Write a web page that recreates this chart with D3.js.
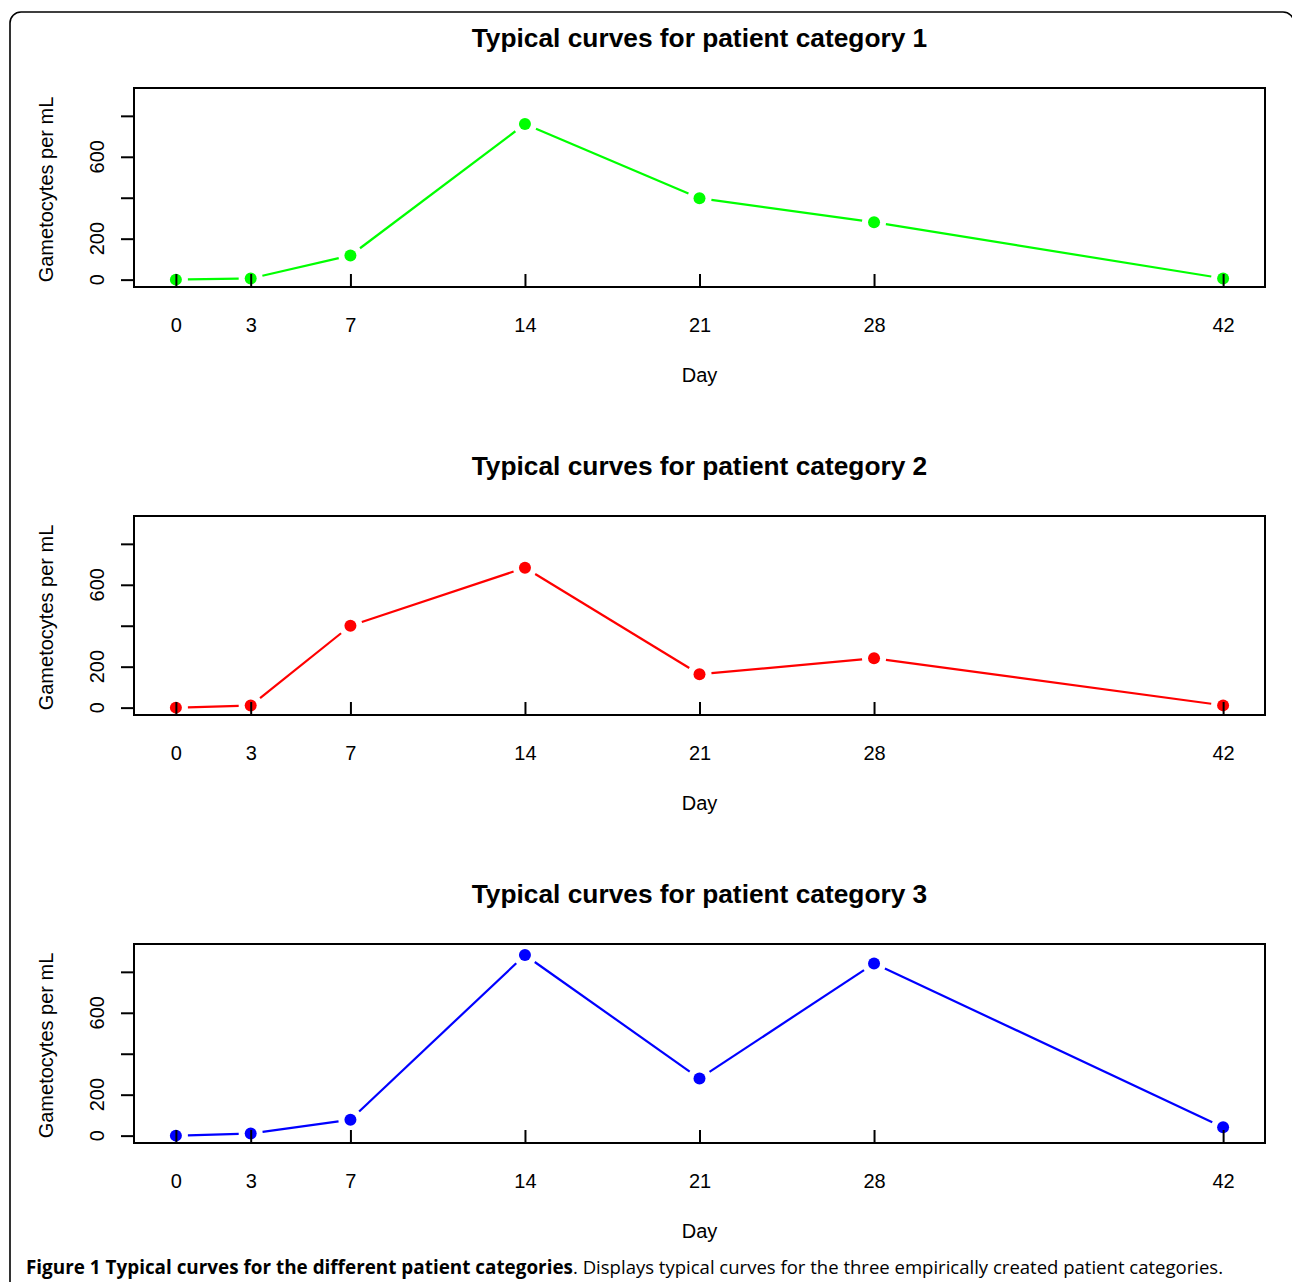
<!DOCTYPE html>
<html>
<head>
<meta charset="utf-8">
<script src="https://cdn.jsdelivr.net/npm/d3@7"></script>
<style>
  html, body { margin: 0; padding: 0; background: #fff; }
  svg { display: block; }
  .r-text { font-family: "Liberation Sans", Arial, Helvetica, sans-serif; fill: #000; }
  .caption { font-family: "Open Sans", "Noto Sans", sans-serif; fill: #000; }
</style>
</head>
<body>
<svg id="fig" width="1292" height="1282"></svg>
<script>
// Sampling days (x axis) shared by every panel
const days = [0, 3, 7, 14, 21, 28, 42];

// Typical gametocyte counts per category, one value per sampling day
const category1 = [0, 6, 118, 760, 398, 280, 6];
const category2 = [0, 10, 400, 683, 163, 241, 11];
const category3 = [0, 10, 78, 882, 279, 841, 41];

const seriesNames = ["1", "2", "3"];
const seriesValues = [category1, category2, category3];
const seriesColors = ["#00ff00", "#ff0000", "#0000ff"];

// Axis settings
const yLimits = [0, 900];
const yTicks = [0, 200, 400, 600, 800];
const yTickLabels = [0, 200, 600];
const xLimits = [0, 42];

const titlePrefix = "Typical curves for patient category ";
const xTitle = "Day";
const yTitle = "Gametocytes per mL";
const captionBold = "Figure 1 Typical curves for the different patient categories";
const captionRest = ". Displays typical curves for the three empirically created patient categories.";

const FONT = "'Liberation Sans', Arial, Helvetica, sans-serif";
const svg = d3.select("#fig");

// Rounded frame around the figure
svg.append("rect")
  .attr("x", 10).attr("y", 12)
  .attr("width", 1284).attr("height", 1300)
  .attr("rx", 11).attr("ry", 11)
  .attr("fill", "none").attr("stroke", "#000").attr("stroke-width", 1.6);

// Plot region geometry
const boxLeft = 134, boxRight = 1265;
const boxHeight = 199;
const panelTop0 = 88, panelStep = 428;

// 4% padding on each side of the data limits, as in base R plots
function padded(lim) {
  const p = (lim[1] - lim[0]) * 0.04;
  return [lim[0] - p, lim[1] + p];
}

const x = d3.scaleLinear().domain(padded(xLimits)).range([boxLeft, boxRight]);

const gap = 12; // space left between a line segment and each point

seriesValues.forEach((vals, i) => {
  const top = panelTop0 + i * panelStep;
  const bottom = top + boxHeight;
  const y = d3.scaleLinear().domain(padded(yLimits)).range([bottom, top]);
  const g = svg.append("g");
  const color = seriesColors[i];

  // Title
  g.append("text").attr("class", "r-text").style("font-family", FONT)
    .attr("x", (boxLeft + boxRight) / 2).attr("y", top - 41)
    .attr("text-anchor", "middle")
    .attr("font-size", 26.3).attr("font-weight", "bold")
    .text(titlePrefix + seriesNames[i]);

  // Line segments with gaps around each point
  const pts = days.map((d, k) => [x(d), y(vals[k])]);
  for (let k = 0; k < pts.length - 1; k++) {
    const [x1, y1] = pts[k], [x2, y2] = pts[k + 1];
    const len = Math.hypot(x2 - x1, y2 - y1);
    if (len <= 2 * gap) continue;
    const ux = (x2 - x1) / len, uy = (y2 - y1) / len;
    g.append("line")
      .attr("x1", x1 + ux * gap).attr("y1", y1 + uy * gap)
      .attr("x2", x2 - ux * gap).attr("y2", y2 - uy * gap)
      .attr("stroke", color).attr("stroke-width", 2.2);
  }

  // Points
  g.selectAll("circle.pt").data(days).join("circle")
    .attr("class", "pt")
    .attr("cx", d => x(d))
    .attr("cy", (d, k) => y(vals[k]))
    .attr("r", 6)
    .attr("fill", color);

  // X axis: ticks pointing into the plot at each sampling day
  const xAxis = d3.axisBottom(x).tickValues(days).tickSize(-13).tickPadding(31).tickFormat(d3.format("d"));
  const gx = g.append("g").attr("transform", `translate(0,${bottom})`).call(xAxis);
  gx.attr("font-family", null).attr("font-size", null);
  gx.select(".domain").remove();
  gx.selectAll(".tick line").attr("stroke", "#000").attr("stroke-width", 2);
  gx.selectAll(".tick text").attr("class", "r-text").style("font-family", FONT)
    .style("font-size", "20px").attr("fill", "#000");

  // Y axis: outward ticks, rotated labels on selected values
  const yAxis = d3.axisLeft(y).tickValues(yTicks).tickSize(13).tickFormat("");
  const gy = g.append("g").attr("transform", `translate(${boxLeft},0)`).call(yAxis);
  gy.select(".domain").remove();
  gy.selectAll(".tick line").attr("stroke", "#000").attr("stroke-width", 2);

  g.selectAll("text.ylab").data(yTickLabels).join("text")
    .attr("class", "ylab r-text").style("font-family", FONT)
    .attr("font-size", 20)
    .attr("text-anchor", "middle")
    .attr("transform", d => `translate(104,${y(d)}) rotate(-90)`)
    .text(d => d);

  // Plot box
  g.append("rect")
    .attr("x", boxLeft).attr("y", top)
    .attr("width", boxRight - boxLeft).attr("height", boxHeight)
    .attr("fill", "none").attr("stroke", "#000").attr("stroke-width", 2);

  // Axis titles
  g.append("text").attr("class", "r-text").style("font-family", FONT)
    .attr("x", (boxLeft + boxRight) / 2).attr("y", bottom + 95)
    .attr("text-anchor", "middle").attr("font-size", 20)
    .text(xTitle);

  g.append("text").attr("class", "r-text").style("font-family", FONT)
    .attr("font-size", 20).attr("text-anchor", "middle")
    .attr("transform", `translate(53,${(top + bottom) / 2 + 2}) rotate(-90)`)
    .text(yTitle);
});

// Figure caption
svg.append("text").attr("class", "caption")
  .attr("x", 26).attr("y", 1274)
  .attr("font-size", 19).attr("font-weight", "bold")
  .attr("textLength", 547).attr("lengthAdjust", "spacingAndGlyphs")
  .text(captionBold);

svg.append("text").attr("class", "caption")
  .attr("x", 573).attr("y", 1274)
  .attr("font-size", 19).attr("fill", "#222")
  .attr("textLength", 650).attr("lengthAdjust", "spacingAndGlyphs")
  .text(captionRest);
</script>
</body>
</html>
